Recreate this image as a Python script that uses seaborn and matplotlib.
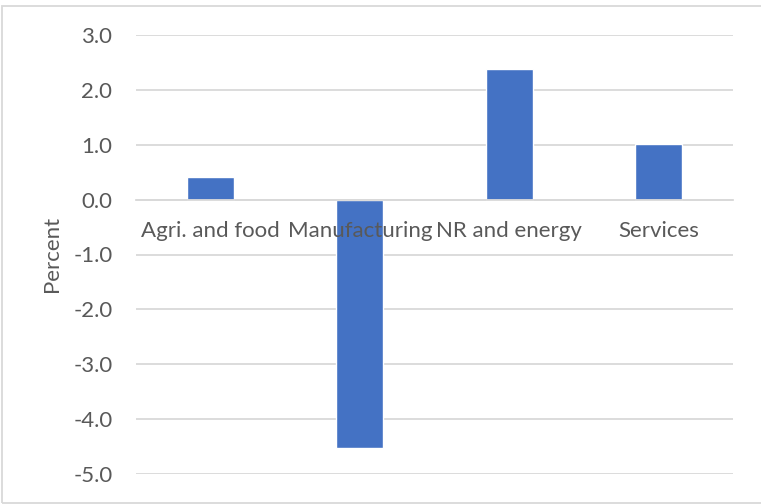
import matplotlib
matplotlib.use("Agg")
import matplotlib.pyplot as plt
import seaborn as sns
import pandas as pd
from matplotlib.patches import Rectangle

# Sector contributions (percent)
categories = ["Agri. and food", "Manufacturing", "NR and energy", "Services"]
values = [0.42, -4.53, 2.38, 1.02]
y_ticks = [3.0, 2.0, 1.0, 0.0, -1.0, -2.0, -3.0, -4.0, -5.0]

sns.set_theme(style="white")
plt.rcParams["font.family"] = ["Lato", "DejaVu Sans"]

TXT = "#595959"
GRID = "#d9d9d9"
FS = 16

df = pd.DataFrame({"sector": categories, "pct": values})

W, H = 761, 504
fig = plt.figure(figsize=(W / 100, H / 100), dpi=100)
ax = fig.add_axes([136 / W, 30 / H, (733 - 136) / W, (474 - 35) / H])

sns.barplot(data=df, x="sector", y="pct", color="#4472C4", saturation=1,
            width=0.315, ax=ax, zorder=2)

ax.set_ylim(-5, 3)
ax.set_xlim(-0.5, 3.5)
ax.set_yticks(y_ticks)
ax.set_yticklabels([f"{t:.1f}" for t in y_ticks])
ax.yaxis.grid(True, color=GRID, linewidth=1.3)
ax.set_axisbelow(True)

for s in ["left", "right", "top"]:
    ax.spines[s].set_visible(False)
ax.spines["bottom"].set_position(("data", 0))
ax.spines["bottom"].set_color(GRID)
ax.spines["bottom"].set_linewidth(1.3)

ax.tick_params(axis="y", length=0, pad=17, labelsize=FS, labelcolor=TXT)
ax.set_xticks(range(len(categories)))
ax.set_xticklabels([])
ax.tick_params(axis="x", length=0)

# Category names sit just below the zero line, drawn over the bars
for i, name in enumerate(categories):
    ax.annotate(name, xy=(i, 0), xytext=(0, -31), textcoords="offset pixels",
                ha="center", va="center", fontsize=FS, color=TXT, zorder=5)

ax.set_xlabel("")
ax.set_ylabel("Percent", fontsize=FS, color=TXT)
ax.yaxis.set_label_coords((62 - 136) / (733 - 136), (474 - 254) / (474 - 35))

# Light chart-area frame
fig.patches.append(Rectangle((2 / W, 1.5 / H), 1.2, (504 - 6 - 1.5) / H,
                             transform=fig.transFigure, fill=False,
                             edgecolor=GRID, linewidth=1.3))

fig.savefig("out.png", dpi=100)
